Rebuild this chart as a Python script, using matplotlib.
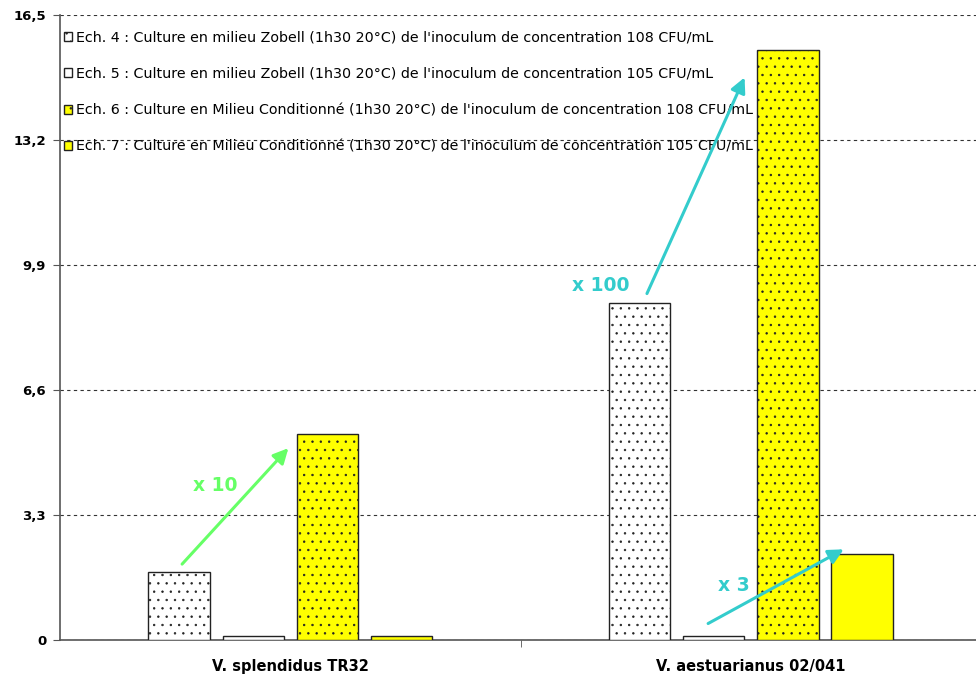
import numpy as np
import matplotlib
matplotlib.use("Agg")
import matplotlib.pyplot as plt

plt.rcParams['font.family'] = ['DejaVu Sans']
plt.rcParams['hatch.linewidth'] = 0.5
plt.rcParams['hatch.color'] = "#222222"

categories = ["V. splendidus TR32", "V. aestuarianus 02/041"]
series = [
    "Ech. 4 : Culture en milieu Zobell (1h30 20°C) de l'inoculum de concentration 108 CFU/mL",
    "Ech. 5 : Culture en milieu Zobell (1h30 20°C) de l'inoculum de concentration 105 CFU/mL",
    "Ech. 6 : Culture en Milieu Conditionné (1h30 20°C) de l'inoculum de concentration 108 CFU/mL",
    "Ech. 7 : Culture en Milieu Conditionné (1h30 20°C) de l'inoculum de concentration 105 CFU/mL",
]
values = [
    [1.80, 8.90],
    [0.10, 0.10],
    [5.45, 15.58],
    [0.10, 2.27],
]
colors = ["white", "white", "#ffff00", "#ffff00"]
hatches = ["..", None, "..", None]
yticks = [0, 3.3, 6.6, 9.9, 13.2, 16.5]

fig = plt.figure(figsize=(9.76, 6.84), dpi=100)
ax = fig.add_axes([0.0615, 0.0643, 0.9385, 0.9137])

x = np.arange(len(categories))
step = 0.161
width = 0.133
for i in range(len(series)):
    ax.bar(x + (i - 1.5) * step, values[i], width, color=colors[i],
           hatch=hatches[i], edgecolor="#222222", linewidth=1.0,
           label=series[i], zorder=3)

ax.set_xlim(-0.5, 1.489)
ax.set_ylim(0, 16.5)
ax.set_yticks(yticks)
ax.set_yticklabels([str(v).replace(".", ",") if v else "0" for v in yticks],
                   fontsize=9.5, fontweight="bold")
ax.yaxis.grid(True, linestyle=(0, (3, 3)), color="#333333", linewidth=0.8)
ax.set_axisbelow(True)
ax.set_xticks(x)
ax.set_xticklabels(categories, fontsize=10.5, fontweight="bold")
ax.tick_params(axis="x", length=0, pad=14)
ax.set_xticks([0.5], minor=True)
ax.tick_params(axis="x", which="minor", length=5, color="#555555")
ax.tick_params(axis="y", length=5, color="#555555", pad=5)
for s in ["top", "right"]:
    ax.spines[s].set_visible(False)
for s in ["left", "bottom"]:
    ax.spines[s].set_color("#555555")
    ax.spines[s].set_linewidth(1.2)

leg = ax.legend(loc="upper left", bbox_to_anchor=(-0.002, 0.984), frameon=False,
                fontsize=10.3, handlelength=0.6, handleheight=0.6,
                handletextpad=0.25, labelspacing=1.55, borderaxespad=0)
leg.set_zorder(5)

green = "#66ff66"
cyan = "#33cccc"
arrow = dict(arrowstyle="-|>,head_length=0.9,head_width=0.45", lw=2.2)
ax.annotate("", xy=(0.0, 5.12), xytext=(-0.239, 1.95),
            arrowprops=dict(arrow, color=green), zorder=6)
ax.text(-0.163, 4.09, "x 10", color=green, fontsize=13.5, fontweight="bold",
        ha="center", va="center", zorder=6)
ax.annotate("", xy=(0.989, 14.92), xytext=(0.772, 9.08),
            arrowprops=dict(arrow, color=cyan), zorder=6)
ax.text(0.674, 9.37, "x 100", color=cyan, fontsize=13.5, fontweight="bold",
        ha="center", va="center", zorder=6)
ax.annotate("", xy=(1.207, 2.43), xytext=(0.902, 0.40),
            arrowprops=dict(arrow, color=cyan), zorder=6)
ax.text(0.963, 1.43, "x 3", color=cyan, fontsize=13.5, fontweight="bold",
        ha="center", va="center", zorder=6)

fig.savefig("out.png", dpi=100)
